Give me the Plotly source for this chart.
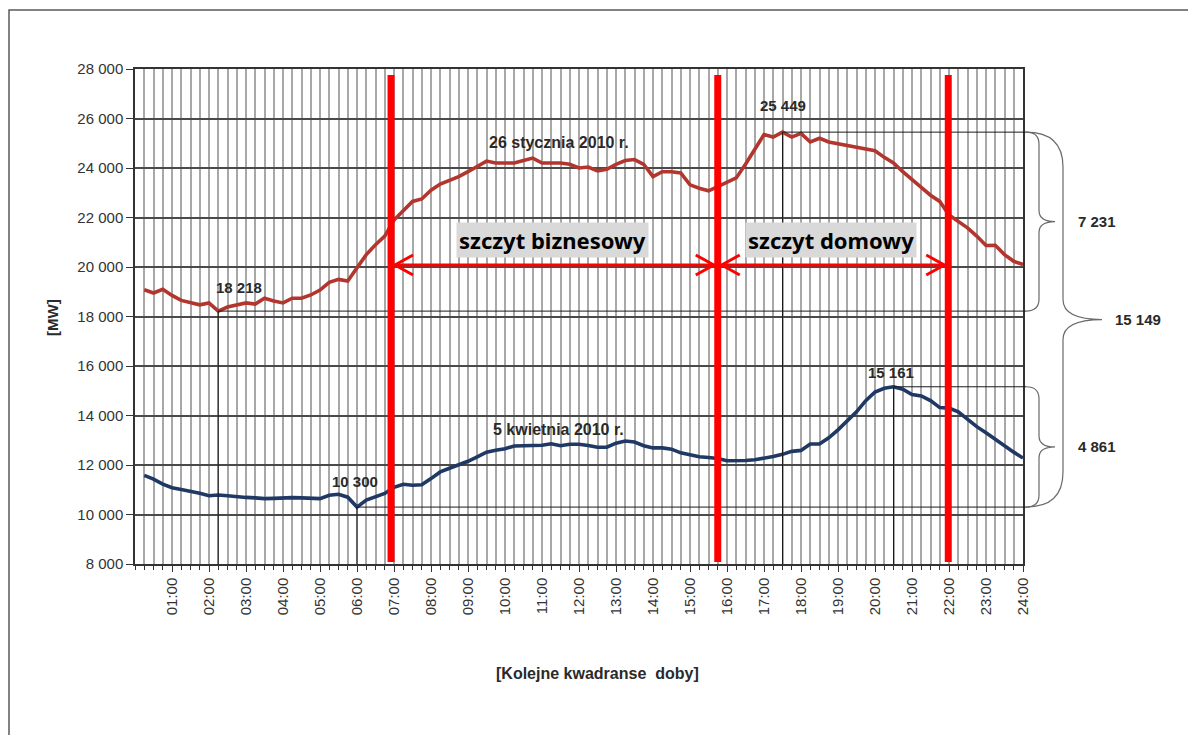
import numpy as np
import plotly.graph_objects as go

# ---------------- data ----------------
quarters = np.arange(1, 97) / 4.0  # quarter-hour of the day (hours)

jan_26 = [19080, 18950, 19100, 18850, 18650, 18550, 18470, 18550, 18218, 18380,
          18470, 18550, 18500, 18740, 18630, 18550, 18740, 18740, 18870, 19070,
          19380, 19500, 19430, 19950, 20500, 20900, 21250, 21900, 22300, 22650,
          22750, 23100, 23350, 23500, 23650, 23850, 24050, 24280, 24200, 24200,
          24200, 24300, 24400, 24200, 24200, 24200, 24150, 24000, 24040, 23880,
          23950, 24150, 24300, 24340, 24150, 23650, 23850, 23850, 23800, 23320,
          23180, 23080, 23250, 23430, 23600, 24150, 24750, 25350, 25250, 25449,
          25250, 25400, 25050, 25200, 25050, 24980, 24900, 24830, 24760, 24700,
          24430, 24200, 23850, 23550, 23220, 22900, 22650, 22100, 21850, 21580,
          21250, 20870, 20880, 20500, 20230, 20100]

apr_5 = [11580, 11430, 11230, 11080, 11010, 10940, 10860, 10760, 10790, 10760,
         10710, 10690, 10670, 10640, 10650, 10670, 10680, 10670, 10650, 10640,
         10780, 10820, 10700, 10300, 10580, 10700, 10850, 11100, 11220, 11180,
         11200, 11450, 11720, 11870, 12000, 12150, 12330, 12520, 12600, 12660,
         12770, 12770, 12780, 12800, 12860, 12780, 12840, 12840, 12790, 12720,
         12720, 12880, 12970, 12930, 12780, 12690, 12690, 12640, 12490, 12400,
         12330, 12300, 12260, 12170, 12160, 12180, 12210, 12260, 12340, 12430,
         12550, 12590, 12850, 12850, 13100, 13420, 13800, 14150, 14600, 14950,
         15100, 15161, 15060, 14850, 14790, 14600, 14320, 14300, 14150, 13850,
         13550, 13300, 13030, 12750, 12520, 12280]

series_names = ["26 stycznia 2010 r.", "5 kwietnia 2010 r."]

hour_ticks = list(range(1, 25))
hour_labels = [f"{h:02d}:00" for h in hour_ticks]
y_ticks = list(range(8000, 28001, 2000))


def fmt(v):
    return f"{int(v):,}".replace(",", " ")


y_labels = [fmt(v) for v in y_ticks]

peak_bounds = [6.92, 15.75, 21.98]
peak_names = ["szczyt biznesowy", "szczyt domowy"]
arrow_level = 20080

# ---------------- layout geometry (page pixels) ----------------
OFF = 8                      # default body margin of the page
W, H = 1196 - OFF, 735 - OFF
L, R, T, B = 135, 1023, 69, 564
PW, PH = R - L, B - T


def px_x(p):
    return (p - L) / PW


def px_y(p):
    return (B - p) / PH


X0, X1 = 0, 24
Y0, Y1 = 8000, 28000
mw_per_px = (Y1 - Y0) / PH
h_per_px = (X1 - X0) / PW

red = "#b3362e"
navy = "#1f3864"
txt = "#2a2a2a"
FONT = "Liberation Sans"

fig = go.Figure()
fig.add_trace(go.Scatter(x=quarters, y=jan_26, mode="lines", name=series_names[0],
                         line=dict(color=red, width=3.6), hoverinfo="x+y"))
fig.add_trace(go.Scatter(x=quarters, y=apr_5, mode="lines", name=series_names[1],
                         line=dict(color=navy, width=3.6), hoverinfo="x+y"))

shapes = []
annotations = []

jan = np.array(jan_26)
apr = np.array(apr_5)
i_jmin, i_jmax = int(jan.argmin()), int(jan.argmax())
i_amin, i_amax = int(apr.argmin()), int(apr.argmax())

extremes = [
    (quarters[i_jmin], jan[i_jmin], 21, -24),
    (quarters[i_amin], apr[i_amin], -2, -26),
    (quarters[i_jmax], jan[i_jmax], 0, -27),
    (quarters[i_amax], apr[i_amax], -3, -14),
]
brace_x_start = px_x(1026)
for xv, yv, dx, dy in extremes:
    shapes.append(dict(type="line", xref="x", yref="y", x0=xv, x1=xv, y0=Y0, y1=yv,
                       line=dict(color="#1a1a1a", width=1), layer="above"))
    shapes.append(dict(type="line", xref="paper", yref="y", x0=(xv - X0) / (X1 - X0),
                       x1=brace_x_start, y0=yv, y1=yv,
                       line=dict(color="#1a1a1a", width=1), layer="above"))
    annotations.append(dict(x=xv, y=yv, xref="x", yref="y", text=f"<b>{fmt(yv)}</b>", showarrow=False,
                            xanchor="center", xshift=dx, yshift=-dy,
                            font=dict(family=FONT, size=15, color=txt)))

# series labels
annotations.append(dict(x=11.45, y=25050, xref="x", yref="y", text=f"<b>{series_names[0]}</b>",
                        xanchor="center", showarrow=False, font=dict(family=FONT, size=16, color=txt)))
annotations.append(dict(x=11.45, y=13420, xref="x", yref="y", text=f"<b>{series_names[1]}</b>",
                        xanchor="center", showarrow=False, font=dict(family=FONT, size=16, color=txt)))

# red peak boundary lines
for b in peak_bounds:
    shapes.append(dict(type="line", xref="x", yref="y", x0=b, x1=b, y0=Y0 + 2 * mw_per_px,
                       y1=Y1 - 6 * mw_per_px, line=dict(color="#ff0000", width=7), layer="above"))

# double arrows + labels
ax = 18 * h_per_px
ay = 10 * mw_per_px
for i, name in enumerate(peak_names):
    a, b = peak_bounds[i], peak_bounds[i + 1]
    a2, b2 = a + 4 * h_per_px, b - 4 * h_per_px
    shapes.append(dict(type="line", xref="x", yref="y", x0=a2, x1=b2, y0=arrow_level, y1=arrow_level,
                       line=dict(color="#ff0000", width=3), layer="above"))
    shapes.append(dict(type="path", xref="x", yref="y",
                       path=f"M {a2 + ax},{arrow_level + ay} L {a2},{arrow_level} L {a2 + ax},{arrow_level - ay}",
                       line=dict(color="#ff0000", width=3), layer="above"))
    shapes.append(dict(type="path", xref="x", yref="y",
                       path=f"M {b2 - ax},{arrow_level + ay} L {b2},{arrow_level} L {b2 - ax},{arrow_level - ay}",
                       line=dict(color="#ff0000", width=3), layer="above"))
    annotations.append(dict(x=(a + b) / 2 - 0.06, y=arrow_level + 25 * mw_per_px, xref="x", yref="y",
                            text=f"<b>{name}</b>", showarrow=False, bgcolor="#d9d9d9", borderpad=2,
                            xanchor="center",
                            font=dict(family="Noto Sans", size=22, color="#000000")))


# braces
def brace(yt, yb, xs, xv, xt, r_end, r_mid):
    ym = (yt + yb) / 2
    return (f"M {xs},{yt} Q {xv},{yt} {xv},{yt - r_end} L {xv},{ym + r_mid} "
            f"Q {xv},{ym} {xt},{ym} Q {xv},{ym} {xv},{ym - r_mid} "
            f"L {xv},{yb + r_end} Q {xv},{yb} {xs},{yb}")


brace_specs = [
    (jan[i_jmax], jan[i_jmin], px_x(1039), px_x(1055), 12, 11, px_x(1097)),
    (jan[i_jmax], apr[i_amin], px_x(1063), px_x(1102), 35, 20, px_x(1138)),
    (apr[i_amax], apr[i_amin], px_x(1039), px_x(1055), 12, 11, px_x(1097)),
]
for yt, yb, xv, xt, re_, rm_, xl in brace_specs:
    shapes.append(dict(type="path", xref="paper", yref="y",
                       path=brace(yt, yb, brace_x_start, xv, xt, re_ * mw_per_px, rm_ * mw_per_px),
                       line=dict(color="#6a6a6a", width=1.2)))
    annotations.append(dict(x=xl, y=(yt + yb) / 2, xref="paper", yref="y", text=f"<b>{fmt(yt - yb)}</b>",
                            xanchor="center", yanchor="middle",
                            showarrow=False, font=dict(family=FONT, size=15, color=txt)))

# axis titles
annotations.append(dict(x=px_x(52), y=px_y(318), xref="paper", yref="paper", text="<b>[MW]</b>",
                        textangle=-90, showarrow=False, xanchor="center", yanchor="middle",
                        font=dict(family=FONT, size=15, color=txt)))
annotations.append(dict(x=px_x(597), y=px_y(673), xref="paper", yref="paper",
                        text="<b>[Kolejne kwadranse&nbsp;&nbsp;doby]</b>", showarrow=False,
                        xanchor="center", yanchor="middle",
                        font=dict(family=FONT, size=16, color=txt)))

# outer frame
shapes.append(dict(type="rect", xref="paper", yref="paper", x0=px_x(9), x1=px_x(1215),
                   y0=px_y(760), y1=px_y(10), line=dict(color="#5a5a5a", width=1.5)))

fig.update_layout(
    width=W, height=H,
    margin=dict(l=L - OFF, r=W - (R - OFF), t=T - OFF, b=H - (B - OFF), pad=0),
    paper_bgcolor="white", plot_bgcolor="white",
    showlegend=False,
    shapes=shapes, annotations=annotations,
    xaxis=dict(range=[X0, X1], tickmode="array", tickvals=hour_ticks, ticktext=hour_labels,
               tickangle=-90, showgrid=True, gridcolor="#a8a8a8", gridwidth=1.6,
               ticks="outside", ticklen=6, tickcolor="#333", tickwidth=1,
               minor=dict(dtick=0.25, tick0=0, showgrid=True, gridcolor="#a8a8a8", gridwidth=1.6,
                          ticks="outside", ticklen=4, tickcolor="#333"),
               showline=True, linecolor="#333", linewidth=1.5, mirror=True, zeroline=False,
               tickfont=dict(family=FONT, size=15, color="#333")),
    yaxis=dict(range=[Y0, Y1], tickmode="array", tickvals=y_ticks, ticktext=y_labels,
               showgrid=True, gridcolor="#4a4a4a", gridwidth=1.5,
               ticks="outside", ticklen=7, tickcolor="#333",
               showline=True, linecolor="#333", linewidth=1.5, mirror=True, zeroline=False,
               tickfont=dict(family=FONT, size=15, color="#333")),
)

fig.write_html("out.html")
